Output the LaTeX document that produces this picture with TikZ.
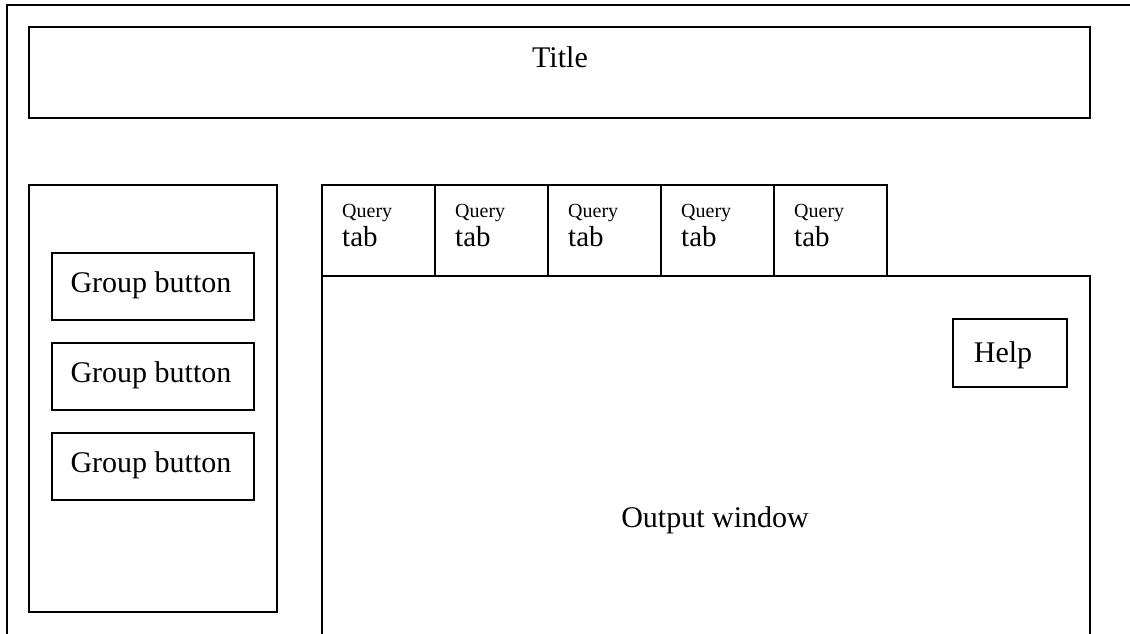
\documentclass[tikz,border=0pt]{standalone}
\usepackage{fontspec}
\setmainfont{Liberation Serif}
\begin{document}
\begin{tikzpicture}[x=1pt,y=-1pt,
  box/.style={draw, line width=1.4pt, inner sep=0pt, rectangle},
  bigtext/.style={font=\fontsize{30}{36}\selectfont, anchor=base, inner sep=0pt},
  smalltext/.style={font=\fontsize{20}{24}\selectfont, anchor=base west, inner sep=0pt},
  tabtext/.style={font=\fontsize{29}{34}\selectfont, anchor=base west, inner sep=0pt},
  frame/.style={draw, line width=1.4pt}]
\useasboundingbox (0,0) rectangle (1130,633);
\clip (0,0) rectangle (1130,633);
% outer frame
\coordinate (fbl) at (7,640);
\coordinate (ftl) at (7,5);
\coordinate (ftr) at (1140,5);
\draw[frame] (fbl) -- (ftl) -- (ftr);
% title
\node[box, minimum width=1061pt, minimum height=91pt] (title) at (559.5,72.5) {};
\node[bigtext] (titletext) at (560,67) {Title};
% left panel
\node[box, minimum width=248pt, minimum height=427pt] (left) at (153,398.5) {};
\foreach \i/\y in {1/286.5, 2/376.5, 3/466.5} {
  \node[box, minimum width=202pt, minimum height=67pt] (g\i) at (153,\y) {};
  \node[bigtext] (gt\i) at (151,\y+5.5) {Group button};
}
% tabs
\foreach \i in {0,...,4} {
  \node[box, minimum width=113pt, minimum height=91pt] (tab\i) at (378.5+113*\i,230.5) {};
  \node[smalltext] (q\i) at (342+113*\i,217) {Query};
  \node[tabtext] (tt\i) at (342+113*\i,246) {tab};
}
% output window
\coordinate (obl) at (322,640);
\coordinate (otl) at (322,276);
\coordinate (otr) at (1090,276);
\coordinate (obr) at (1090,640);
\draw[frame] (obl) -- (otl) -- (otr) -- (obr);
\node[bigtext] (out) at (715,527) {Output window};
% help
\node[box, minimum width=114pt, minimum height=68pt] (help) at (1010,353) {};
\node[bigtext] (helptext) at (1003,362) {Help};
\end{tikzpicture}
\end{document}
